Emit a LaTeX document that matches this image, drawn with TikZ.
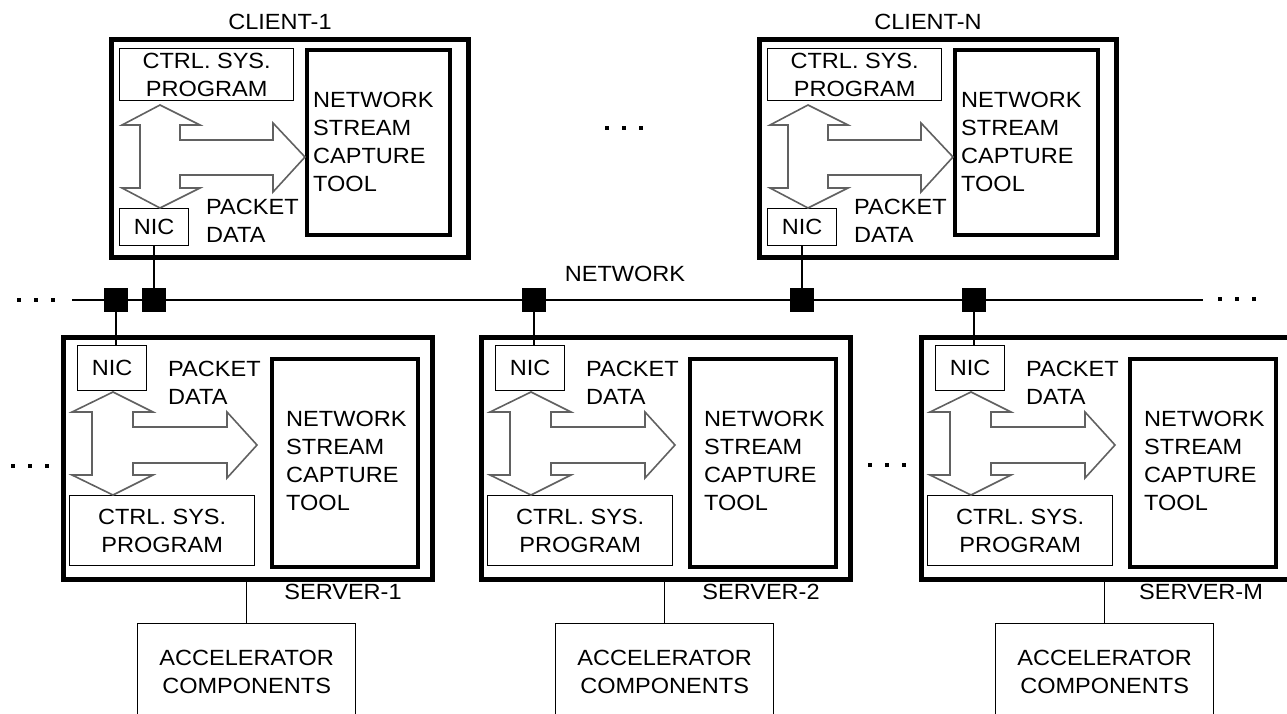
\documentclass[tikz,border=0pt]{standalone}
\usepackage{fontspec}
\setmainfont{Liberation Sans}[FakeStretch=1.07]
\usetikzlibrary{positioning}

\tikzset{
    lbl/.style={font=\fontsize{22}{28}\selectfont, inner sep=0pt, align=left},
    thinbox/.style={draw, line width=1.3pt, inner sep=0pt, align=center, anchor=north west, font=\fontsize{22}{28}\selectfont},
    toolbox/.style={draw, line width=3.5pt, inner sep=0pt, anchor=north west},
    hostbox/.style={draw, line width=5pt, inner sep=0pt, anchor=north west},
    tap/.style={fill, minimum size=24pt, inner sep=0pt},
    datapath/.style={draw=black!62, line width=1.6pt, line join=miter},
    link/.style={line width=2.5pt},
    acclink/.style={line width=1.3pt}
}

\begin{document}
\begin{tikzpicture}[x=1pt, y=-1pt]
    \useasboundingbox (0,0) rectangle (1287,713);
    \clip (0,0) rectangle (1287,713);

    % network bus
    \coordinate (netL) at (72,300);
    \coordinate (netR) at (1203,300);
    \draw[link] (netL) -- (netR);
    \node[lbl] (netlbl) at (625,274) {NETWORK};

    % servers
    \foreach \dx/\i in {0/1, 418/2, 858/M} {
        \begin{scope}[shift={(61+\dx,335)}]
            \node[hostbox, minimum width=369, minimum height=242] (srv\i) at (0,0) {};
            \node[lbl] (srvlbl\i) at (282,257) {SERVER-\i};
            \node[thinbox, minimum width=69, minimum height=45] (snic\i) at (16,10) {NIC};
            \node[thinbox, minimum width=185, minimum height=70] (sctrl\i) at (8,160) {CTRL. SYS.\\PROGRAM};
            \node[toolbox, minimum width=146, minimum height=208] (stool\i) at (209,22) {};
            \node[lbl, anchor=west] (stooltxt\i) at (225,126) {NETWORK\\STREAM\\CAPTURE\\TOOL};
            \node[lbl, anchor=west] (spkt\i) at (107,48) {PACKET\\DATA};
            \draw[datapath] (52,57) -- (92,77) -- (72,77) -- (72,92) -- (166,92) -- (166,77)
                -- (196,110) -- (166,143) -- (166,128) -- (72,128) -- (72,140) -- (92,140)
                -- (52,160) -- (11,140) -- (31,140) -- (31,77) -- (11,77) -- cycle;
            \node[thinbox, minimum width=218, minimum height=96] (acc\i) at (76,288) {ACCELERATOR\\COMPONENTS};
            \draw[acclink] (acc\i.north) -- (acc\i.north |- srv\i.south);
            \node[tap] (tap\i) at (55,-35) {};
            \draw[link] (tap\i) -- (tap\i |- snic\i.north);
        \end{scope}
    }

    % clients
    \foreach \dx/\i in {0/1, 648/N} {
        \begin{scope}[shift={(109+\dx,37)}]
            \node[hostbox, minimum width=357, minimum height=218] (cli\i) at (0,0) {};
            \node[lbl] (clilbl\i) at (171,-15) {CLIENT-\i};
            \node[thinbox, minimum width=174, minimum height=52] (cctrl\i) at (10,11) {CTRL. SYS.\\PROGRAM};
            \node[toolbox, minimum width=143, minimum height=185] (ctool\i) at (196,11) {};
            \node[lbl, anchor=west] (ctooltxt\i) at (204,105) {NETWORK\\STREAM\\CAPTURE\\TOOL};
            \node[thinbox, minimum width=69, minimum height=37] (cnic\i) at (10,171) {NIC};
            \node[lbl, anchor=west] (cpkt\i) at (97,184) {PACKET\\DATA};
            \draw[datapath] (51,68) -- (91,88) -- (71,88) -- (71,103) -- (164,103) -- (164,86)
                -- (196,120) -- (164,155) -- (164,138) -- (71,138) -- (71,151) -- (91,151)
                -- (51,171) -- (13,151) -- (31,151) -- (31,88) -- (13,88) -- cycle;
            \node[tap] (ctap\i) at (cnic\i.south |- netL) {};
            \draw[link] (cnic\i.south) -- (ctap\i);
        \end{scope}
    }

    % ellipses
    \foreach \x/\y in {19/300, 13/466, 1220/299, 607/128, 870/465}
        \foreach \k in {0,1,2}
            \fill (\x+17*\k-2,\y-2) rectangle ++(4,4);
\end{tikzpicture}
\end{document}
